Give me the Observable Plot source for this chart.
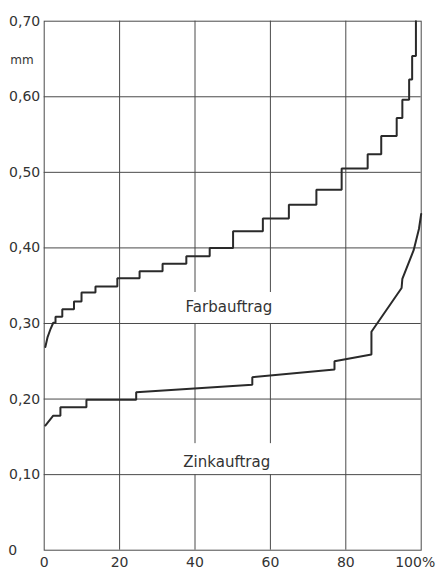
<!DOCTYPE html>
<html><head><meta charset="utf-8">
<script src="https://cdn.jsdelivr.net/npm/d3@7"></script>
<script src="https://cdn.jsdelivr.net/npm/@observablehq/plot@0.6"></script>
<style>body{margin:0;background:#fff}</style>
</head><body><div id="chart"></div>
<script>
// Tick values
const xTickValues = [0, 20, 40, 60, 80];
const xLastTick = [100];
const yTickValues = [0.1, 0.2, 0.3, 0.4, 0.5, 0.6, 0.7];
const xGridValues = [20, 40, 60, 80];
const yGridValues = [0.1, 0.2, 0.3, 0.4, 0.5, 0.6];

// Farbauftrag: sloped beginning, then stepped levels (cumulative % where each step rises, new level in mm)
const farbStartPct = [0.3, 0.9, 1.7];
const farbStartMm  = [0.269, 0.282, 0.293];
const farbStepPct = [2.4, 3.0, 4.8, 7.9, 9.9, 13.6, 19.4, 25.3, 31.4, 37.7, 43.9, 50.1, 58.0, 64.9, 72.2, 78.9, 85.8, 89.4, 93.5, 95.0, 96.8, 97.6, 98.6];
const farbStepMm  = [0.301, 0.309, 0.319, 0.329, 0.341, 0.349, 0.360, 0.369, 0.379, 0.389, 0.400, 0.422, 0.439, 0.457, 0.477, 0.505, 0.524, 0.548, 0.572, 0.596, 0.623, 0.654, 0.700];

// Zinkauftrag: polyline vertices
const zinkPct = [0.3, 2.4, 4.3, 4.3, 11.2, 11.2, 24.4, 24.4, 55.2, 55.2, 77.0, 77.0, 86.8, 86.8, 94.8, 95.0, 98.0, 99.4, 100];
const zinkMm  = [0.165, 0.178, 0.178, 0.189, 0.189, 0.199, 0.199, 0.209, 0.219, 0.229, 0.239, 0.250, 0.259, 0.289, 0.347, 0.359, 0.397, 0.425, 0.445];

const seriesLabels = ["Farbauftrag", "Zinkauftrag"];

// Build tables
const farb = farbStartPct.map((p, i) => ({pct: p, mm: farbStartMm[i]}));
farbStepPct.forEach((p, i) => {
  if (i > 0) farb.push({pct: p, mm: farbStepMm[i - 1]});
  farb.push({pct: p, mm: farbStepMm[i]});
});
const zink = zinkPct.map((p, i) => ({pct: p, mm: zinkMm[i]}));

const fmtY = d => d.toFixed(2).replace(".", ",");
const ink = "#2a2a2a";
const gridInk = "#4a4a4a";

const chart = Plot.plot({
  width: 438, height: 572,
  marginLeft: 43.7, marginRight: 17.3, marginTop: 20.7, marginBottom: 22.3,
  style: {fontFamily: "DejaVu Sans, sans-serif", fontSize: "14px", color: "#333", background: "#fff"},
  x: {domain: [0, 100]},
  y: {domain: [0, 0.7]},
  marks: [
    Plot.ruleX(xGridValues, {stroke: gridInk, strokeWidth: 1}),
    // gaps in the vertical grid around the series labels
    Plot.rect([0.30, 0.10], {x1: 36, x2: 64, y1: d => d, y2: d => d + 0.041, fill: "#fff"}),
    Plot.ruleY(yGridValues, {stroke: gridInk, strokeWidth: 1}),
    Plot.frame({stroke: gridInk, strokeWidth: 1}),
    Plot.line(farb, {x: "pct", y: "mm", stroke: ink, strokeWidth: 2, strokeLinejoin: "miter"}),
    Plot.line(zink, {x: "pct", y: "mm", stroke: ink, strokeWidth: 2, strokeLinejoin: "miter"}),
    Plot.axisY(yTickValues, {tickSize: 0, tickPadding: 4, tickFormat: fmtY, label: null, fontSize: 14, fill: "#333"}),
    Plot.axisX(xTickValues, {tickSize: 0, tickPadding: 7, tickFormat: d => String(d), label: null, fontSize: 14, fill: "#333"}),
    Plot.axisX(xLastTick, {tickSize: 0, tickPadding: 7, tickFormat: d => d + "%", label: null, fontSize: 14, fill: "#333", dx: -6}),
    Plot.text(["0"], {x: 0, y: 0, text: d => d, dx: -36, textAnchor: "start", fontSize: 14, fill: "#333"}),
    Plot.text(["mm"], {x: 0, y: 0.649, text: d => d, dx: -34, textAnchor: "start", fontSize: 12, fill: "#333"}),
    Plot.text([seriesLabels[0]], {x: 37.5, y: 0.321, text: d => d, textAnchor: "start", fontSize: 15, fill: "#333", letterSpacing: 0.6}),
    Plot.text([seriesLabels[1]], {x: 36.9, y: 0.116, text: d => d, textAnchor: "start", fontSize: 15, fill: "#333"})
  ]
});
document.getElementById("chart").append(chart);
</script>
</body></html>
